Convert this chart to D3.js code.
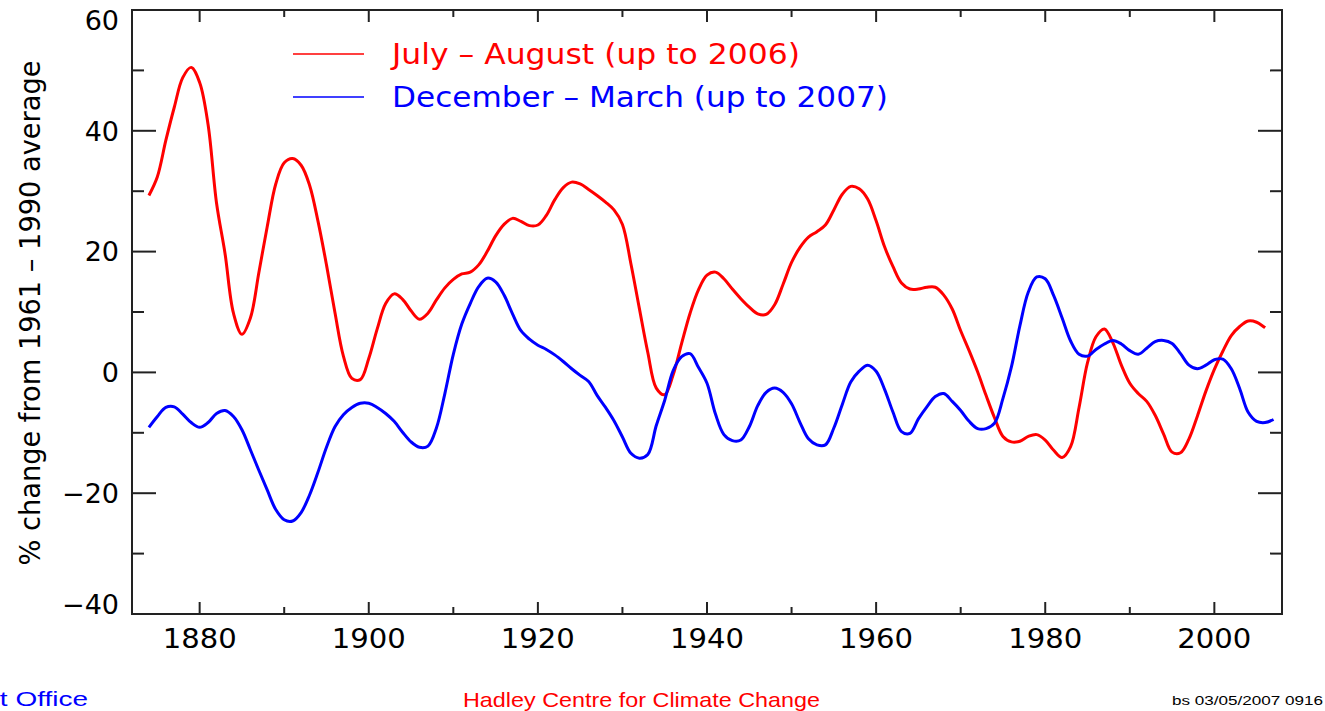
<!DOCTYPE html>
<html>
<head>
<meta charset="utf-8">
<script src="https://cdn.jsdelivr.net/npm/d3@7"></script>
<style>
  body { margin: 0; background: #fff; }
  svg { display: block; }
</style>
</head>
<body>
<div id="chart"></div>
<script>
// July - August series (1874 - 2006), % change from 1961-1990 average
var summerYears = d3.range(1874, 2007)
var summerValues = [
  29.3, 32.4, 38.4, 43.9, 48.8, 50.5, 48.0, 41.0, 28.0, 19.7,
  9.8, 6.3, 9.0, 16.5, 24.2, 31.2, 34.7, 35.4, 34.3, 31.0,
  25.0, 17.8, 9.9, 2.7, -1.0, -1.2, 2.3, 7.2, 11.4, 13.0,
  12.1, 10.2, 8.8, 9.8, 12.0, 14.0, 15.4, 16.3, 16.6, 17.8,
  20.0, 22.6, 24.5, 25.5, 25.0, 24.3, 24.4, 26.0, 28.6, 30.6,
  31.5, 31.2, 30.3, 29.3, 28.2, 26.9, 24.5, 18.0, 10.6, 3.3,
  -2.6, -3.7, -0.4, 4.8, 9.8, 13.7, 16.1, 16.6, 15.5, 13.8,
  12.2, 10.8, 9.7, 9.6, 11.2, 14.6, 18.2, 20.7, 22.4, 23.3,
  24.4, 26.9, 29.5, 30.8, 30.4, 28.7, 25.1, 20.8, 17.5, 14.8,
  13.8, 13.8, 14.1, 14.1, 12.8, 10.5, 6.9, 3.6, 0.1, -3.8,
  -7.5, -10.6, -11.5, -11.4, -10.6, -10.3, -11.2, -12.9, -14.1, -12.3,
  -5.8, 1.6, 5.9, 7.2, 4.9, 1.2, -1.8, -3.5, -4.8, -7.1,
  -10.2, -13.2, -13.3, -11.0, -7.2, -3.1, 0.5, 3.5, 6.1, 7.6,
  8.5, 8.3, 7.4
]

// December - March series (1874 - 2007)
var winterYears = d3.range(1874, 2008)
var winterValues = [
  -9.1, -7.3, -5.8, -5.7, -6.9, -8.3, -9.1, -8.3, -6.8, -6.3,
  -7.3, -9.5, -12.8, -16.2, -19.5, -22.7, -24.4, -24.6, -23.2, -20.3,
  -16.5, -12.4, -9.0, -7.0, -5.8, -5.1, -5.1, -5.8, -6.8, -8.1,
  -9.9, -11.5, -12.4, -12.2, -9.2, -3.5, 3.0, 8.0, 11.4, 14.2,
  15.6, 15.0, 12.8, 9.7, 6.9, 5.5, 4.5, 3.8, 2.9, 1.8,
  0.6, -0.5, -1.5, -3.8, -5.8, -8.0, -10.7, -13.4, -14.2, -13.6,
  -8.8, -4.6, 0.3, 2.6, 3.1, 0.8, -1.8, -6.9, -10.3, -11.3,
  -11.2, -9.0, -5.5, -3.3, -2.6, -3.3, -5.2, -8.3, -11.0, -12.0,
  -12.0, -9.2, -5.3, -1.6, 0.2, 1.2, 0.2, -2.8, -6.6, -9.8,
  -10.1, -7.7, -5.7, -4.0, -3.5, -4.8, -6.3, -8.1, -9.3, -9.3,
  -8.4, -4.3, 0.9, 7.7, 13.3, 15.8, 15.5, 12.7, 9.0, 5.2,
  3.0, 2.7, 3.8, 4.7, 5.3, 4.7, 3.6, 3.0, 4.0, 5.1,
  5.3, 4.8, 3.1, 1.2, 0.6, 1.2, 2.1, 2.2, 0.6, -2.7,
  -6.6, -8.1, -8.3, -7.8
]

var xMajorTicks = [1880, 1900, 1920, 1940, 1960, 1980, 2000]
var xMinorTicks = [1890, 1910, 1930, 1950, 1970, 1990]
var yMajorTicks = [-40, -20, 0, 20, 40, 60]
var yMinorTicks = [-30, -10, 10, 30, 50]

var legendLabels = ['July \u2013 August (up to 2006)', 'December \u2013 March (up to 2007)']
var legendColours = ['#ff0000', '#0000ff']

var svgWidth = 1325, svgHeight = 711
var plotLeft = 132, plotRight = 1282, plotTop = 10, plotBottom = 614

var svg = d3.select('#chart')
  .append('svg')
  .attr('width', svgWidth)
  .attr('height', svgHeight)
  .style('font-family', '"DejaVu Sans", sans-serif')

var x = d3.scaleLinear().domain([1872, 2008]).range([plotLeft, plotRight])
var y = d3.scaleLinear().domain([-40, 60]).range([plotBottom, plotTop])

var frameColour = '#222'

// tick marks, all pointing inward from the frame
var tickGroup = svg.append('g').attr('stroke', frameColour).attr('stroke-width', 2)

function xTicks(vals, len) {
  vals.forEach(function(v) {
    tickGroup.append('line').attr('x1', x(v)).attr('x2', x(v)).attr('y1', plotBottom).attr('y2', plotBottom - len)
    tickGroup.append('line').attr('x1', x(v)).attr('x2', x(v)).attr('y1', plotTop).attr('y2', plotTop + len)
  })
}
function yTicks(vals, len) {
  vals.forEach(function(v) {
    tickGroup.append('line').attr('x1', plotLeft).attr('x2', plotLeft + len).attr('y1', y(v)).attr('y2', y(v))
    tickGroup.append('line').attr('x1', plotRight).attr('x2', plotRight - len).attr('y1', y(v)).attr('y2', y(v))
  })
}
xTicks(xMajorTicks, 12)
xTicks(xMinorTicks, 7)
yTicks(yMajorTicks, 24)
yTicks(yMinorTicks, 12)

// frame
svg.append('rect')
  .attr('x', plotLeft).attr('y', plotTop)
  .attr('width', plotRight - plotLeft).attr('height', plotBottom - plotTop)
  .attr('fill', 'none')
  .attr('stroke', frameColour)
  .attr('stroke-width', 2)

// tick labels
svg.append('g').selectAll('text')
  .data(xMajorTicks)
  .enter().append('text')
    .attr('x', function(d){ return x(d) })
    .attr('y', 648)
    .attr('text-anchor', 'middle')
    .style('font-size', '27px')
    .attr('textLength', 74)
    .attr('lengthAdjust', 'spacingAndGlyphs')
    .text(function(d){ return d })

svg.append('g').selectAll('text')
  .data(yMajorTicks)
  .enter().append('text')
    .attr('x', 119)
    .attr('y', function(d){ return Math.min(Math.max(y(d), 20), 604) })
    .attr('dy', '0.36em')
    .attr('text-anchor', 'end')
    .style('font-size', '27px')
    .text(function(d){ return d < 0 ? '\u2212' + Math.abs(d) : d })

// y axis title
svg.append('text')
  .attr('transform', 'translate(40,313) rotate(-90)')
  .attr('text-anchor', 'middle')
  .style('font-size', '28px')
  .attr('textLength', 505)
  .attr('lengthAdjust', 'spacingAndGlyphs')
  .text('% change from 1961 \u2013 1990 average')

// series
var line = d3.line()
  .x(function(d){ return x(d[0]) })
  .y(function(d){ return y(d[1]) })
  .curve(d3.curveCatmullRom.alpha(0.5))

var seriesData = [
  d3.zip(summerYears, summerValues),
  d3.zip(winterYears, winterValues)
]

svg.append('g').selectAll('path')
  .data(seriesData)
  .enter().append('path')
    .attr('d', line)
    .attr('fill', 'none')
    .attr('stroke', function(d, i){ return legendColours[i] })
    .attr('stroke-width', 3)
    .attr('stroke-linejoin', 'round')

// legend
var legendY = [54, 97]
var legendWidths = [408, 496]
legendLabels.forEach(function(lbl, i) {
  svg.append('line')
    .attr('x1', 293).attr('x2', 364)
    .attr('y1', legendY[i]).attr('y2', legendY[i])
    .attr('stroke', legendColours[i])
    .attr('stroke-width', 1.5)
  svg.append('text')
    .attr('x', 392)
    .attr('y', legendY[i] + 10)
    .attr('fill', legendColours[i])
    .style('font-size', '28px')
    .attr('textLength', legendWidths[i])
    .attr('lengthAdjust', 'spacingAndGlyphs')
    .text(lbl)
})

// footer
svg.append('text')
  .attr('x', -39).attr('y', 706)
  .attr('fill', '#0000ff')
  .style('font-family', '"Liberation Sans", Arial, sans-serif')
  .style('font-size', '21px')
  .attr('textLength', 127)
  .attr('lengthAdjust', 'spacingAndGlyphs')
  .text('Met Office')

svg.append('text')
  .attr('x', 463).attr('y', 707)
  .attr('fill', '#ff0000')
  .style('font-family', '"Liberation Sans", Arial, sans-serif')
  .style('font-size', '21px')
  .attr('textLength', 357)
  .attr('lengthAdjust', 'spacingAndGlyphs')
  .text('Hadley Centre for Climate Change')

svg.append('text')
  .attr('x', 1172).attr('y', 705)
  .attr('fill', '#000')
  .style('font-family', '"Liberation Sans", Arial, sans-serif')
  .style('font-size', '12px')
  .attr('textLength', 151)
  .attr('lengthAdjust', 'spacingAndGlyphs')
  .text('bs 03/05/2007 0916')
</script>
</body>
</html>
